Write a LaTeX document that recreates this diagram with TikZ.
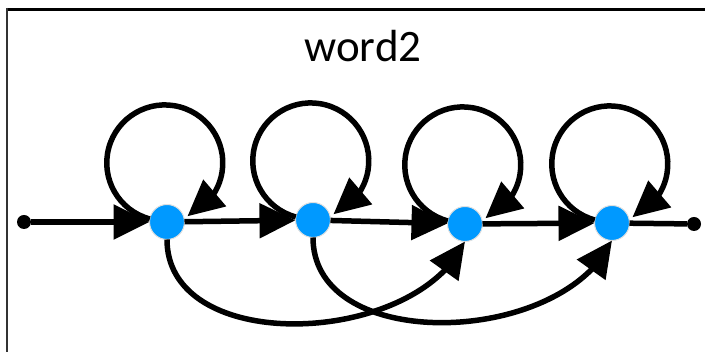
\documentclass[tikz,border=0pt]{standalone}
\usepackage{fontspec}
\setmainfont{Carlito}
\usetikzlibrary{arrows.meta,bending}
\definecolor{stateblue}{rgb}{0.0,0.6,1.0}

\begin{document}
\begin{tikzpicture}
  [x=1pt,y=1pt,
   state/.style={circle,fill=stateblue,draw=black!12,line width=1pt,minimum size=35pt,inner sep=0pt,outer sep=0pt},
   dot/.style={circle,fill=black,minimum size=14pt,inner sep=0pt,outer sep=0pt},
   link/.style={line width=5.5pt},
   arr/.style={link,-{Triangle[length=36pt,width=34pt,flex]}}]

  \useasboundingbox (0,0) rectangle (705,352);
  \draw[line width=3pt] (7,342.5) -- (705,342.5);
  \draw[line width=2pt,black!80] (7,344) -- (7,0);

  \node (title) at (363,290) [anchor=base,font=\fontsize{45}{50}\selectfont] {word2};

  \node[dot] (d0) at (24,130) {};
  \node[state] (n1) at (167,130) {};
  \node[state] (n2) at (313,132) {};
  \node[state] (n3) at (465,128) {};
  \node[state] (n4) at (612,129) {};
  \node[dot] (d5) at (694,128) {};

  \foreach \from/\to in {d0/n1,n1/n2,n2/n3,n3/n4}
    \draw[arr] (\from) -- (\to);
  \draw[link] (n4) -- (d5);
  \foreach \n in {n1,n2,n3,n4}
    \draw[arr] (\n.170) arc[start angle=255,end angle=-67,radius=58pt];
  \foreach \from/\to in {n1/n3,n2/n4}
    \draw[arr] (\from.south) to[out=-90,in=-115] (\to.south);
\end{tikzpicture}
\end{document}
